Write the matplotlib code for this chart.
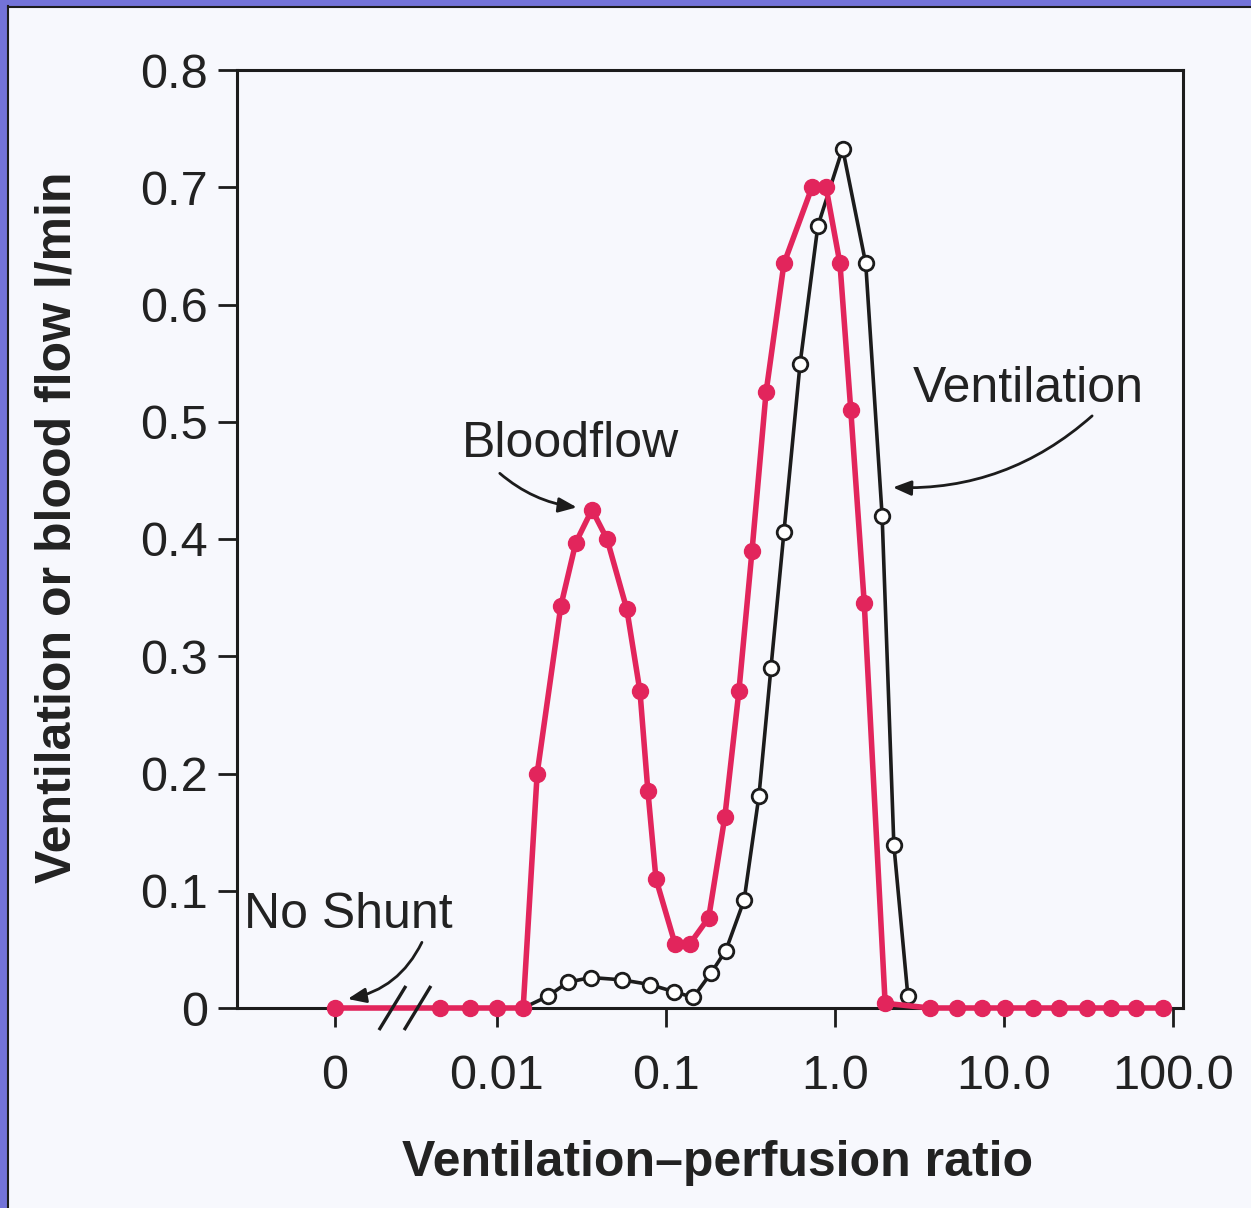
import matplotlib
matplotlib.use("Agg")
import matplotlib.pyplot as plt
from matplotlib.patches import Rectangle
from matplotlib.lines import Line2D
import matplotlib.transforms as mtransforms

# Bloodflow (red, filled markers): ventilation-perfusion ratio vs l/min
blood_ratio = [0.0011, 0.0046, 0.0069, 0.010, 0.0143, 0.0173, 0.0239, 0.0293,
               0.0365, 0.0448, 0.0587, 0.0702, 0.0782, 0.0873, 0.113, 0.139,
               0.179, 0.223, 0.270, 0.323, 0.391, 0.499, 0.731, 0.885, 1.07,
               1.24, 1.49, 1.98, 3.65, 5.27, 7.41, 10.1, 14.9, 21.1, 31.0,
               43.0, 60.4, 87.3]
blood_flow = [0.0, 0.0, 0.0, 0.0, 0.0, 0.200, 0.343, 0.397,
              0.425, 0.400, 0.340, 0.270, 0.185, 0.110, 0.055, 0.055,
              0.077, 0.163, 0.270, 0.390, 0.525, 0.635, 0.700, 0.700, 0.635,
              0.510, 0.345, 0.004, 0.0, 0.0, 0.0, 0.0, 0.0, 0.0, 0.0,
              0.0, 0.0, 0.0]

# Ventilation (black, open markers); first point is where the line leaves the axis
vent_ratio = [0.0143, 0.0200, 0.0263, 0.0360, 0.0550, 0.0804, 0.111, 0.145,
              0.185, 0.226, 0.290, 0.355, 0.418, 0.499, 0.621, 0.792, 1.11,
              1.52, 1.90, 2.23, 2.70]
vent_flow = [0.0, 0.010, 0.022, 0.026, 0.024, 0.020, 0.014, 0.009,
             0.030, 0.049, 0.092, 0.181, 0.290, 0.406, 0.549, 0.667, 0.733,
             0.635, 0.420, 0.139, 0.010]

x_ticks = [0.0011, 0.01, 0.1, 1.0, 10.0, 100.0]
x_ticklabels = ["0", "0.01", "0.1", "1.0", "10.0", "100.0"]
y_ticks = [0, 0.1, 0.2, 0.3, 0.4, 0.5, 0.6, 0.7, 0.8]
y_ticklabels = ["0", "0.1", "0.2", "0.3", "0.4", "0.5", "0.6", "0.7", "0.8"]

RED = "#e2255c"
INK = "#1c1c1c"
BG = "#f7f8fd"

plt.rcParams["font.family"] = ["Liberation Sans", "DejaVu Sans"]

fig = plt.figure(figsize=(12.51, 12.08), dpi=100, facecolor=BG)
ax = fig.add_axes([237 / 1251, 200 / 1208, 946 / 1251, 938 / 1208])
ax.set_facecolor(BG)

# 画线
ax.plot(vent_ratio, vent_flow, color=INK, lw=2.6, marker="o", ms=10.5,
        mfc="white", mec=INK, mew=2.0, markevery=list(range(1, len(vent_ratio))),
        zorder=3, clip_on=False)
ax.plot(blood_ratio, blood_flow, color=RED, lw=4, marker="o", ms=11.5,
        mfc=RED, mec=RED, zorder=4, clip_on=False)

ax.set_xscale("log")
ax.set_xlim(0.00029, 114.5)
ax.set_ylim(0, 0.8)
ax.set_xticks(x_ticks)
ax.set_xticklabels(x_ticklabels)
ax.xaxis.set_minor_locator(matplotlib.ticker.NullLocator())
ax.set_yticks(y_ticks)
ax.set_yticklabels(y_ticklabels)

for sp in ax.spines.values():
    sp.set_linewidth(2.2)
    sp.set_color(INK)
ax.tick_params(axis="both", direction="out", length=14, width=2, color=INK,
               labelsize=35, labelcolor="#222222")
ax.tick_params(axis="x", pad=19)
ax.tick_params(axis="y", pad=7)

ax.set_xlabel("Ventilation\u2013perfusion ratio", fontsize=36, fontweight="bold",
              color="#222222", va="center")
ax.xaxis.set_label_coords((718 - 237) / 946, (1008 - 1163) / 938)
ax.set_ylabel("Ventilation or blood flow l/min", fontsize=36, fontweight="bold",
              color="#222222", va="center", ha="center")
ax.yaxis.set_label_coords((58 - 237) / 946, (1008 - 527) / 938)

# axis break marks
brk = mtransforms.blended_transform_factory(ax.transData, ax.transAxes)
for x0, x1 in [(0.00203, 0.00286), (0.00286, 0.00402)]:
    ax.add_line(Line2D([x0, x1], [-0.022, 0.022], color=INK, lw=2.4,
                       transform=brk, clip_on=False, zorder=5))

# 标注
arrow = dict(arrowstyle="-|>,head_length=1.1,head_width=0.45", color=INK, lw=2.0,
             shrinkA=0, shrinkB=0)
ax.text(0.0274, 0.481, "Bloodflow", fontsize=36, ha="center", va="center", color="#222222")
ax.annotate("", xy=(0.0297, 0.427), xytext=(0.0104, 0.456),
            arrowprops=dict(arrow, connectionstyle="arc3,rad=0.15"))
ax.text(13.9, 0.528, "Ventilation", fontsize=36, ha="center", va="center", color="#222222")
ax.annotate("", xy=(2.20, 0.444), xytext=(33.2, 0.505),
            arrowprops=dict(arrow, connectionstyle="arc3,rad=-0.2"))
ax.text(0.00133, 0.0795, "No Shunt", fontsize=36, ha="center", va="center", color="#222222")
ax.annotate("", xy=(0.00131, 0.0077), xytext=(0.0036, 0.056),
            arrowprops=dict(arrow, connectionstyle="arc3,rad=-0.25"))

# scanned-page frame
fig.add_artist(Rectangle((0, 1 - 6 / 1208), 1, 6 / 1208, transform=fig.transFigure,
                         facecolor="#7373d8", edgecolor="none"))
fig.add_artist(Rectangle((0, 0), 7 / 1251, 1, transform=fig.transFigure,
                         facecolor="#7373d8", edgecolor="none"))
fig.add_artist(Line2D([7.5 / 1251, 7.5 / 1251], [0, 1 - 6 / 1208], transform=fig.transFigure,
                      color=INK, lw=1.5))
fig.add_artist(Line2D([7.5 / 1251, 1], [1 - 6.5 / 1208, 1 - 6.5 / 1208],
                      transform=fig.transFigure, color=INK, lw=1.5))

plt.savefig("out.png", dpi=100, facecolor=BG)
plt.close()
